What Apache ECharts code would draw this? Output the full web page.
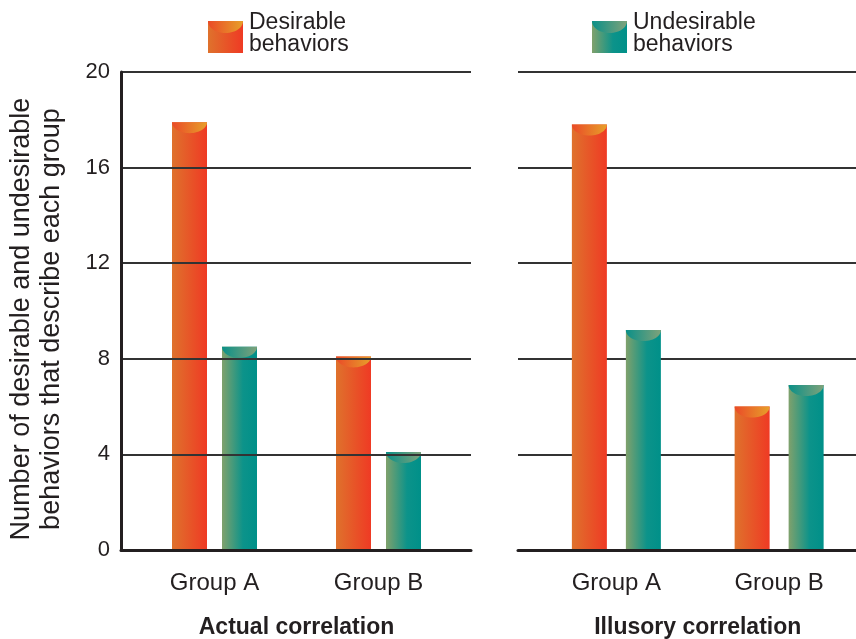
<!DOCTYPE html>
<html>
<head>
<meta charset="utf-8">
<script src="https://cdn.jsdelivr.net/npm/echarts@6/dist/echarts.min.js"></script>
<style>
  html, body { margin: 0; padding: 0; background: #fff; }
  #chart { width: 856px; height: 639px; }
</style>
</head>
<body>
<div id="chart"></div>
<script>
// Behaviour counts per group, for the actual and the perceived (illusory) correlation
var categories = ['Group A', 'Group B'];
var actualDesirable = [17.9, 8.1];
var actualUndesirable = [8.5, 4.1];
var illusoryDesirable = [17.8, 6];
var illusoryUndesirable = [9.2, 6.9];
var panelTitles = ['Actual correlation', 'Illusory correlation'];
var legendLabels = ['Desirable\nbehaviors', 'Undesirable\nbehaviors'];
var yMin = 0, yMax = 20, yStep = 4;

var FONT = '"Liberation Sans", Arial, Helvetica, sans-serif';
var INK = '#231f20';
var BAR_W = 35;
var CAP_DEPTH = 11;

var LG = echarts.graphic.LinearGradient;
var palettes = {
  desirable: {
    body: [{ offset: 0, color: '#df722c' }, { offset: 1, color: '#ef3a24' }],
    cap: [{ offset: 0, color: '#ea4a28' }, { offset: 1, color: '#e7a02a' }]
  },
  undesirable: {
    body: [{ offset: 0, color: '#80a16c' }, { offset: 0.6, color: '#0c938a' }, { offset: 1, color: '#009089' }],
    cap: [{ offset: 0, color: '#0a9088' }, { offset: 1, color: '#7fa27a' }]
  }
};

// Half-ellipse cap hanging from the top edge of a bar
function capPoints(x0, y, w, depth) {
  var pts = [[x0, y], [x0 + w, y]];
  var n = 28, rx = w / 2, cx = x0 + rx;
  for (var i = 0; i <= n; i++) {
    var t = (i / n) * Math.PI;
    pts.push([cx + rx * Math.cos(t), y + depth * Math.sin(t)]);
  }
  return pts;
}

function barRenderer(offset, palette) {
  return function (params, api) {
    var cat = api.value(0);
    var v = api.value(1);
    var top = api.coord([cat, v]);
    var base = api.coord([cat, 0]);
    var x0 = top[0] + offset - BAR_W / 2;
    var h = base[1] - top[1];
    return {
      type: 'group',
      children: [
        {
          type: 'rect',
          shape: { x: x0, y: top[1], width: BAR_W, height: h },
          style: { fill: new LG(0, 0, 1, 0, palette.body) }
        },
        {
          type: 'polygon',
          shape: { points: capPoints(x0, top[1], BAR_W, CAP_DEPTH) },
          style: { fill: new LG(0, 0, 1, 0, palette.cap) }
        }
      ]
    };
  };
}

function toPairs(values) {
  return values.map(function (v, i) { return [i, v]; });
}

function legendItem(x, y, palette, label) {
  return {
    type: 'group',
    x: x, y: y,
    children: [
      { type: 'rect', shape: { x: 0, y: 0, width: 35, height: 32 },
        style: { fill: new LG(0, 0, 1, 0, palette.body) } },
      { type: 'polygon', shape: { points: capPoints(0, 0, 35, 12) },
        style: { fill: new LG(0, 0, 1, 0, palette.cap) } },
      { type: 'text', x: 41, y: -9,
        style: { text: label, font: '23px ' + FONT, fill: INK, lineHeight: 22 } }
    ]
  };
}

var gridTop = 72, gridBottom = 89;
var splitStyle = { show: true, lineStyle: { color: '#333', width: 2 } };

function makeGrid(left, width) {
  return { left: left, width: width, top: gridTop, bottom: gridBottom, outerBoundsMode: 'none' };
}

function categoryAxis(gridIndex, title) {
  return {
    gridIndex: gridIndex, type: 'category', data: categories,
    axisLine: { show: false }, axisTick: { show: false },
    axisLabel: { fontSize: 24, color: INK, margin: 21, fontFamily: FONT },
    name: title, nameLocation: 'middle', nameGap: 66,
    nameTextStyle: { fontSize: 23, fontWeight: 'bold', color: INK, fontFamily: FONT }
  };
}

function frameXAxis(gridIndex) {
  return {
    gridIndex: gridIndex, type: 'value', min: 0, max: 1, z: 5,
    axisLine: { show: true, lineStyle: { color: INK, width: 3 } },
    axisTick: { show: false }, axisLabel: { show: false }, splitLine: { show: false }
  };
}

var option = {
  backgroundColor: '#fff',
  animation: false,
  textStyle: { fontFamily: FONT, color: INK },
  grid: [
    makeGrid(121, 350),    // left frame
    makeGrid(132.5, 328),  // left bars
    makeGrid(518, 338),    // right frame
    makeGrid(535, 325.5)   // right bars
  ],
  xAxis: [
    frameXAxis(0),
    categoryAxis(1, panelTitles[0]),
    frameXAxis(2),
    categoryAxis(3, panelTitles[1])
  ],
  yAxis: [
    { gridIndex: 0, type: 'value', min: yMin, max: yMax, interval: yStep, z: 5,
      axisLine: { show: true, lineStyle: { color: INK, width: 3 } },
      axisTick: { show: false },
      axisLabel: { fontSize: 22, color: INK, margin: 11, fontFamily: FONT },
      splitLine: splitStyle,
      name: 'Number of desirable and undesirable\nbehaviors that describe each group',
      nameLocation: 'middle', nameGap: 54,
      nameTextStyle: { fontSize: 27, color: INK, lineHeight: 30, fontFamily: FONT,
        padding: [0, 16, 0, 0] } },
    { gridIndex: 1, type: 'value', min: yMin, max: yMax, show: false },
    { gridIndex: 2, type: 'value', min: yMin, max: yMax, interval: yStep,
      axisLine: { show: false }, axisTick: { show: false }, axisLabel: { show: false },
      splitLine: splitStyle },
    { gridIndex: 3, type: 'value', min: yMin, max: yMax, show: false }
  ],
  graphic: [
    legendItem(208, 21, palettes.desirable, legendLabels[0]),
    legendItem(592, 21, palettes.undesirable, legendLabels[1])
  ],
  series: [
    { type: 'custom', name: 'Desirable behaviors', xAxisIndex: 1, yAxisIndex: 1,
      renderItem: barRenderer(-25, palettes.desirable), data: toPairs(actualDesirable) },
    { type: 'custom', name: 'Undesirable behaviors', xAxisIndex: 1, yAxisIndex: 1,
      renderItem: barRenderer(25, palettes.undesirable), data: toPairs(actualUndesirable) },
    { type: 'custom', name: 'Desirable behaviors', xAxisIndex: 3, yAxisIndex: 3,
      renderItem: barRenderer(-27, palettes.desirable), data: toPairs(illusoryDesirable) },
    { type: 'custom', name: 'Undesirable behaviors', xAxisIndex: 3, yAxisIndex: 3,
      renderItem: barRenderer(27, palettes.undesirable), data: toPairs(illusoryUndesirable) }
  ]
};

var chart = echarts.init(document.getElementById('chart'), null, { renderer: 'canvas' });
chart.setOption(option);
</script>
</body>
</html>
